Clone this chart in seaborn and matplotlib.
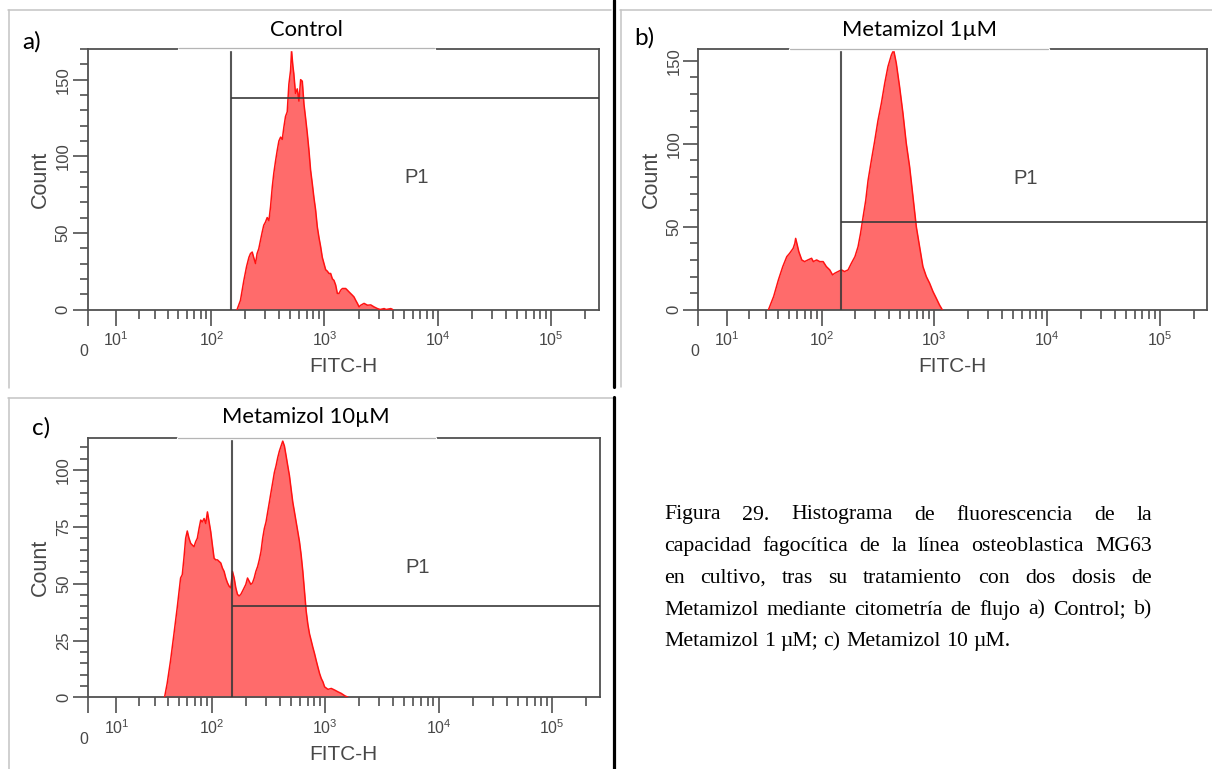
import numpy as np
import matplotlib
matplotlib.use("Agg")
import matplotlib.pyplot as plt
import seaborn as sns
from matplotlib.lines import Line2D

# ---------------------------------------------------------------- data
# FITC-H intensity and event counts for each sample
control_fitc = [169, 181, 194, 205, 215, 222, 230, 237, 246, 254,
                263, 272, 282, 291, 301, 312, 323, 334, 346, 357,
                370, 383, 396, 410, 424, 438, 453, 469, 485, 502,
                512, 526, 536, 555, 575, 595, 616, 637, 659, 681,
                705, 729, 754, 781, 807, 835, 864, 894, 925, 957,
                990, 1024, 1060, 1096, 1134, 1174, 1213, 1255, 1299, 1344,
                1391, 1440, 1488, 1539, 1594, 1646, 1704, 1764, 1822, 1886,
                1952, 2021, 2091, 2236, 2396, 2561, 2738, 2933, 3100, 3362,
                3500, 3850, 4000]
control_count = [0, 6, 19, 28, 34, 36.5, 37.5, 34, 30, 36.5,
                 39.7, 45, 50.6, 55, 57, 60, 58, 67, 80, 89,
                 97, 104, 110, 112.5, 111, 119, 126, 129, 147, 156,
                 169, 159, 154, 141, 144, 136, 150, 149, 134, 125,
                 115, 104, 91, 82, 73, 65, 54, 47, 41, 34,
                 30, 26, 25, 23.5, 23.5, 20, 19, 16, 10.5, 10.5,
                 12.6, 13.7, 13.7, 13.7, 12.6, 11.5, 10.4, 9.3, 8.2, 6,
                 4, 1.7, 2.8, 4, 2.8, 3, 1.7, 0.6, 0, 0.6,
                 0, 0.6, 0]

met1_fitc = [32, 36, 40, 44, 48, 51, 55, 57, 58, 60,
             62, 66, 70, 75, 81, 84, 90, 96, 103, 110,
             118, 125, 131, 140, 150, 160, 172, 184, 198, 211,
             222, 234, 247, 259, 277, 297, 317, 340, 364, 389,
             417, 437, 461, 493, 528, 565, 605, 648, 694, 742,
             794, 851, 910, 974, 1043, 1115, 1179]
met1_count = [0, 8, 18, 26, 32, 34, 37, 40, 43, 39,
              35, 30, 29, 30, 31, 29, 30, 29, 29, 26,
              24, 21, 22, 23, 24, 23, 24, 28, 32, 38,
              46, 56, 66, 78, 90, 102, 114, 124.5, 136.5, 146.6,
              153.6, 156.6, 148.6, 134.5, 118.5, 100.4, 86.3, 68.2, 50, 38,
              26, 20, 16, 11, 6.9, 2.8, 0]

met10_fitc = [36.8, 39, 42, 45.2, 48.5, 52.1, 54, 55.9, 58, 60,
              62.2, 64.4, 66.7, 69.1, 71.5, 74, 76.7, 79.4, 82.2, 85.1,
              88.1, 91.2, 94.4, 97.6, 101, 104.6, 108.3, 112, 115.9, 120,
              124, 128.4, 132.9, 137.5, 142.3, 147.2, 152.3, 157.7, 163, 168.7,
              174.6, 180.6, 186.8, 193.3, 200, 207, 214, 221.5, 229.2, 237.1,
              245.3, 254.4, 263, 272.3, 281.7, 291.4, 301.6, 312, 322.7, 333.8,
              345.4, 357.3, 369.6, 382.4, 395.6, 409.2, 423.4, 438, 453.2, 468.8,
              485, 501.7, 519, 537, 555.7, 574.8, 594.6, 615, 636.4, 658.4,
              681, 704.7, 729, 754, 780, 807.6, 835, 864, 894, 925,
              957, 990, 1060, 1134, 1213, 1299, 1390, 1488, 1593]
met10_count = [0, 6.1, 16.2, 27.9, 39.5, 52.5, 54, 61.2, 70, 73.2,
               70, 67.8, 67, 66.3, 68.5, 70, 74.3, 78, 77.2, 78.7,
               76.5, 81.6, 77.2, 72.9, 67, 61.2, 60.5, 60.5, 59.8, 59.1,
               56.9, 55.4, 52.5, 50.4, 48.9, 48.2, 55.4, 52.5, 48.2, 45.3,
               44.6, 45.3, 46.7, 48.2, 49.7, 52.5, 51.1, 49.7, 50.4, 52.5,
               55.4, 57.6, 60.5, 64.2, 70, 74.3, 77.2, 81.6, 85.9, 90.3,
               94.6, 99, 101.9, 105.5, 108.4, 110.6, 112.8, 110.6, 106.3, 101.9,
               97.6, 91.7, 85.9, 81.6, 77.2, 72.9, 68.5, 62.7, 55.4, 46.7,
               38, 32.2, 27.9, 25, 22, 19.2, 16.2, 13.3, 10.5, 8.3,
               6.8, 4.6, 3.5, 3.9, 3.2, 2.4, 1.7, 0.7, 0]

titles = ["Control", "Metamizol 1\u00b5M", "Metamizol 10\u00b5M"]
tags = ["a)", "b)", "c)"]
count_max = [170, 157, 114]
count_major = [50, 50, 25]
count_minor = [10, 10, 5]
gate_start = 150                      # P1 lower bound (FITC-H)
gate_height = [138, 53, 40]           # height at which the P1 bar is drawn
x_max = 262144
x_major = [0, 10, 100, 1000, 10000, 100000]
x_major_labels = ["", r"$10^{1}$", r"$10^{2}$", r"$10^{3}$", r"$10^{4}$", r"$10^{5}$"]
x_minor = [m * 10 ** e for e in range(1, 5) for m in range(2, 10)] + [200000]

caption_lines = [
    "Figura 29. Histograma de fluorescencia de la",
    "capacidad fagocítica de la línea osteoblastica MG63",
    "en cultivo, tras su tratamiento con dos dosis de",
    "Metamizol mediante citometría de flujo a) Control; b)",
    "Metamizol 1 \u00b5M; c) Metamizol 10 \u00b5M.",
]

# ---------------------------------------------------------------- style
FIG_W, FIG_H = 1212, 769
sns.set_style("white")
plt.rcParams.update({
    "font.family": ["Liberation Sans", "DejaVu Sans"],
    "mathtext.fontset": "custom",
    "mathtext.rm": "Liberation Sans",
    "mathtext.it": "Liberation Sans:italic",
    "mathtext.bf": "Liberation Sans:bold",
    "axes.edgecolor": "#505050",
    "axes.linewidth": 1.3,
})
AX_TXT = "#474747"
SPINE = "#505050"
GATE_COLOR = "#383838"
PT = 72 / 100  # points per pixel

fig = plt.figure(figsize=(FIG_W / 100, FIG_H / 100), dpi=100)


def rect(left, top, right, bottom):
    return [left / FIG_W, 1 - bottom / FIG_H, (right - left) / FIG_W, (bottom - top) / FIG_H]


def fx(px):
    return px / FIG_W


def fy(py):
    return 1 - py / FIG_H


ASINH_C = 16.2


def fwd(x):
    return np.arcsinh(np.asarray(x, dtype=float) / ASINH_C)


def inv(u):
    return ASINH_C * np.sinh(np.asarray(u, dtype=float))


panels = [
    dict(rect=rect(87.5, 49, 598.5, 309.5), fitc=control_fitc, count=control_count,
         title_xy=(306, 30), tag_xy=(32, 42), cover=(179, 434, 48.3)),
    dict(rect=rect(698.3, 49.3, 1207, 309.7), fitc=met1_fitc, count=met1_count,
         title_xy=(919, 30), tag_xy=(644, 38), cover=(790, 1048, 48.6)),
    dict(rect=rect(87.7, 438.3, 599.6, 697.3), fitc=met10_fitc, count=met10_count,
         title_xy=(306, 417), tag_xy=(41, 428), cover=(178, 435, 437.6)),
]

for i, p in enumerate(panels):
    ax = fig.add_axes(p["rect"])
    ax.set_xscale("function", functions=(fwd, inv))

    ax.fill_between(p["fitc"], p["count"], 0, color="#ff0000", alpha=0.58,
                    lw=0, zorder=2)
    sns.lineplot(x=p["fitc"], y=p["count"], ax=ax, color="#ff1212", lw=1.1,
                 estimator=None, sort=False, zorder=3)

    # P1 interval gate
    ax.axvline(gate_start, color=GATE_COLOR, lw=1.5, alpha=0.85, zorder=4)
    ax.hlines(gate_height[i], gate_start, x_max, color=GATE_COLOR, lw=1.4,
              alpha=0.85, zorder=4)
    ax.text(6500, [86, 79, 57][i], "P1", ha="center", va="center",
            fontsize=14.5, color=AX_TXT)

    ax.set_xlim(0, x_max)
    ax.set_ylim(0, count_max[i])

    ax.set_xticks(x_major)
    ax.set_xticklabels(x_major_labels)
    ax.set_xticks(x_minor, minor=True)
    ax.xaxis.set_minor_formatter(plt.NullFormatter())
    yt = np.arange(0, count_max[i] + 0.1, count_major[i])
    ax.set_yticks(yt)
    ax.set_yticklabels([str(int(v)) for v in yt])
    ax.set_yticks(np.arange(0, count_max[i] + 0.1, count_minor[i]), minor=True)
    ax.yaxis.set_minor_formatter(plt.NullFormatter())

    ax.tick_params(axis="both", which="both", direction="out", colors=SPINE,
                   width=1.2, labelcolor=AX_TXT)
    ax.tick_params(axis="x", which="both", bottom=True, top=False)
    ax.tick_params(axis="y", which="both", left=True, right=False)
    ax.tick_params(axis="x", which="major", length=11.5, pad=3.5, labelsize=11.5)
    ax.tick_params(axis="x", which="minor", length=6.5)
    ax.tick_params(axis="y", which="major", length=11, pad=1, labelsize=12,
                   labelrotation=90)
    ax.tick_params(axis="y", which="minor", length=6)
    for lbl in ax.get_yticklabels():
        lbl.set_va("center")

    for s in ax.spines.values():
        s.set_visible(True)
        s.set_color(SPINE)
        s.set_linewidth(1.3)

    ax.annotate("0", xy=(0, 0), xycoords="axes fraction",
                xytext=(-3.5 * PT, -42 * PT), textcoords="offset points",
                ha="center", va="center", fontsize=11.5, color=AX_TXT)

    ax.set_xlabel("FITC-H", fontsize=15, color=AX_TXT)
    ax.xaxis.set_label_coords(0.5, -57 / 260)
    ax.xaxis.label.set_va("center")
    ax.set_ylabel("Count", fontsize=15.5, color=AX_TXT)
    ax.yaxis.set_label_coords(-47.5 / 510, 0.5)
    ax.yaxis.label.set_va("center")

    # title bar covering the top frame line
    x0, x1, yc = p["cover"]
    fig.add_artist(Line2D([fx(x0), fx(x1)], [fy(yc + 0.8), fy(yc + 0.8)],
                          transform=fig.transFigure, color="white", lw=2.4, zorder=10))
    fig.add_artist(Line2D([fx(x0), fx(x1)], [fy(yc), fy(yc)],
                          transform=fig.transFigure, color="#b5b5b5", lw=0.9, zorder=11))

    tx, ty = p["title_xy"]
    fig.text(fx(tx), fy(ty), titles[i], ha="center", va="center",
             fontsize=15.8, family="Lato", color="black")
    gx, gy = p["tag_xy"]
    fig.text(fx(gx), fy(gy), tags[i], ha="center", va="center",
             fontsize=17.5, family="Lato", color="black")

# ---------------------------------------------------------------- frames and dividers
frame_lines = [
    ((8, 10), (611, 10)), ((8.5, 10), (8.5, 388)),
    ((620, 9.5), (1212, 9.5)), ((620.5, 9.5), (620.5, 387)),
    ((8, 398), (614, 398)), ((8.5, 398), (8.5, 769)),
]
for (xa, ya), (xb, yb) in frame_lines:
    fig.add_artist(Line2D([fx(xa), fx(xb)], [fy(ya), fy(yb)], transform=fig.transFigure,
                          color="#c4c4c4", lw=1.1, zorder=12))
for (xa, ya), (xb, yb) in [((613.8, 0), (613.8, 387)), ((613.8, 397), (613.8, 769))]:
    fig.add_artist(Line2D([fx(xa), fx(xb)], [fy(ya), fy(yb)], transform=fig.transFigure,
                          color="black", lw=2.3, zorder=13))

# ---------------------------------------------------------------- caption (justified)
renderer = fig.canvas.get_renderer()
cap_left, cap_right = 664, 1152
cap_base, cap_step = 519.5, 31.7
cap_kw = dict(fontsize=15.7, family="Liberation Serif", color="black", va="baseline")
for li, line in enumerate(caption_lines):
    words = line.split(" ")
    y = fy(cap_base + li * cap_step)
    texts = [fig.text(0, y, w, ha="left", **cap_kw) for w in words]
    widths = [t.get_window_extent(renderer).width for t in texts]
    if li < len(caption_lines) - 1 and len(words) > 1:
        gap = (cap_right - cap_left - sum(widths)) / (len(words) - 1)
    else:
        space = fig.text(0, 0, "a a", **cap_kw)
        aa = fig.text(0, 0, "aa", **cap_kw)
        gap = space.get_window_extent(renderer).width - aa.get_window_extent(renderer).width
        space.remove()
        aa.remove()
    x = cap_left
    for t, w in zip(texts, widths):
        t.set_x(fx(x))
        x += w + gap

fig.savefig("out.png", dpi=100)
